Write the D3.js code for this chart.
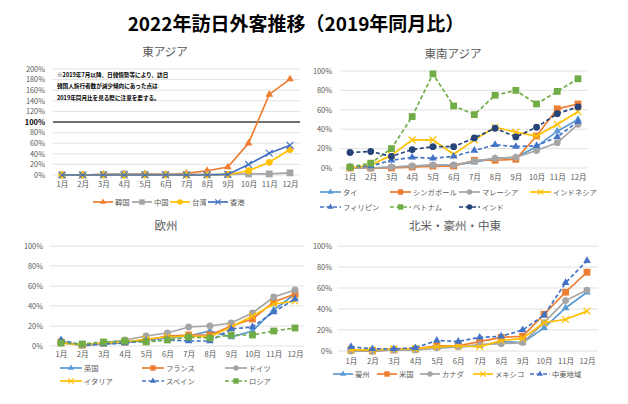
<!DOCTYPE html>
<html><head><meta charset="utf-8">
<script src="https://cdn.jsdelivr.net/npm/d3@7"></script>
<style>
body{margin:0;background:#fff;}
svg{font-family:"Noto Sans CJK JP","Noto Sans",sans-serif;}
</style></head>
<body><svg id="c" width="628" height="404"></svg>
<script>
const months = ["1月","2月","3月","4月","5月","6月","7月","8月","9月","10月","11月","12月"];
const mainTitle = "2022年訪日外客推移（2019年同月比）";
const noteLines = ["※2019年7月以降、日韓情勢等により、訪日","韓国人旅行者数が減少傾向にあった点は","2019年同月比を見る際に注意を要する。"];

// 東アジア
const eaTicks = [0,20,40,60,80,100,120,140,160,180,200];
const korea = [0,0,1,2,2,1,3,8,15,60,152,181];
const china = [0,0,1,2,1,1,1,1,1,2,2,4];
const taiwan = [0,0,0,0,0,0,0,0,1,8,24,48];
const hongkong = [0,0,0,0,0,0,0,0,1,20,41,56];

// 東南アジア
const pctTicks = [0,20,40,60,80,100];
const thailand = [0,0,1,2,3,3,6,10,11,22,38,50];
const singapore = [0,0,0,1,2,2,8,8,9,33,61,66];
const malaysia = [0,0,1,2,3,3,7,10,11,18,26,45];
const indonesia = [0,3,13,29,29,14,29,42,37,33,45,58];
const philippines = [1,2,8,11,10,12,18,24,22,23,32,48];
const vietnam = [1,5,20,53,97,64,55,75,80,66,79,92];
const india = [16,17,12,19,22,22,31,41,32,42,56,63];

// 欧州
const uk = [5,0,2,3,6,8,10,15,9,15,36,52];
const france = [4,1,3,4,6,10,11,11,20,27,44,52];
const germany = [3,1,3,6,10,13,19,20,23,33,49,56];
const italy = [3,1,3,4,7,9,10,9,19,30,42,45];
const spain = [6,1,2,3,5,6,5,5,17,19,34,47];
const russia = [3,2,4,5,4,6,9,8,11,11,15,18];

// 北米・豪州・中東
const australia = [0,0,1,1,3,4,5,9,8,22,41,56];
const usa = [1,0,1,2,5,5,9,13,14,35,56,75];
const canada = [0,0,1,1,3,4,6,7,8,27,48,58];
const mexico = [1,1,2,2,4,5,4,10,12,27,30,38];
const mideast = [4,2,2,3,10,9,13,14,20,34,65,86];

const C = {lblue:"#5B9BD5", orange:"#ED7D31", gray:"#A5A5A5", yellow:"#FFC000", blue:"#4472C4", green:"#70AD47", navy:"#264478"};

const panels = [
 {title:"東アジア", tx:165, ty:56, x0:62, x1:290, yTop:69, yBot:175, yMax:200, ticks:eaTicks, gx0:53, gx1:300, labR:45, monthY:187,
  series:[
   {name:"韓国", d:korea, c:C.orange, m:"tri", dash:false},
   {name:"中国", d:china, c:C.gray, m:"sq", dash:false},
   {name:"台湾", d:taiwan, c:C.yellow, m:"circ", dash:false},
   {name:"香港", d:hongkong, c:C.blue, m:"x", dash:false}],
  legend:[[93,202],[132,202],[170,202],[208,202]], legLen:20, ref100:true, note:true},
 {title:"東南アジア", tx:453, ty:58, x0:350, x1:578, yTop:71, yBot:168, yMax:100, ticks:pctTicks, gx0:340, gx1:588, labR:332, monthY:180,
  series:[
   {name:"タイ", d:thailand, c:C.lblue, m:"tri", dash:false},
   {name:"シンガポール", d:singapore, c:C.orange, m:"sq", dash:false},
   {name:"マレーシア", d:malaysia, c:C.gray, m:"circ", dash:false},
   {name:"インドネシア", d:indonesia, c:C.yellow, m:"x", dash:false},
   {name:"フィリピン", d:philippines, c:C.blue, m:"tri", dash:true},
   {name:"ベトナム", d:vietnam, c:C.green, m:"sq", dash:true},
   {name:"インド", d:india, c:C.navy, m:"circ", dash:true}],
  legend:[[320,192],[390,192],[459,192],[530,192],[320,207],[390,207],[459,207]], legLen:21},
 {title:"欧州", tx:166, ty:230, x0:61, x1:295, yTop:246, yBot:346, yMax:100, ticks:pctTicks, gx0:50, gx1:305, labR:43, monthY:357,
  series:[
   {name:"英国", d:uk, c:C.lblue, m:"tri", dash:false},
   {name:"フランス", d:france, c:C.orange, m:"sq", dash:false},
   {name:"ドイツ", d:germany, c:C.gray, m:"circ", dash:false},
   {name:"イタリア", d:italy, c:C.yellow, m:"x", dash:false},
   {name:"スペイン", d:spain, c:C.blue, m:"tri", dash:true},
   {name:"ロシア", d:russia, c:C.green, m:"sq", dash:true}],
  legend:[[60,368],[142,368],[225,368],[60,381],[142,381],[225,381]], legLen:22},
 {title:"北米・豪州・中東", tx:455, ty:230, x0:351, x1:587, yTop:246, yBot:351, yMax:100, ticks:pctTicks, gx0:338, gx1:598, labR:332, monthY:364,
  series:[
   {name:"豪州", d:australia, c:C.lblue, m:"tri", dash:false},
   {name:"米国", d:usa, c:C.orange, m:"sq", dash:false},
   {name:"カナダ", d:canada, c:C.gray, m:"circ", dash:false},
   {name:"メキシコ", d:mexico, c:C.yellow, m:"x", dash:false},
   {name:"中東地域", d:mideast, c:C.blue, m:"tri", dash:true}],
  legend:[[333,374],[377,374],[420,374],[473,374],[530,374]], legLen:20}
];

const svg = d3.select("#c");
svg.append("text").attr("x",296).attr("y",31).attr("text-anchor","middle")
  .attr("font-size",19).attr("font-weight","bold").attr("fill","#000").text(mainTitle);

function marker(g, type, x, y, c, s){
  s = s||3.4;
  if(type==="tri") g.append("path").attr("d",d3.symbol(d3.symbolTriangle, s*s*2.2)()).attr("transform",`translate(${x},${y})`).attr("fill",c);
  else if(type==="sq") g.append("rect").attr("x",x-s).attr("y",y-s).attr("width",2*s).attr("height",2*s).attr("fill",c);
  else if(type==="circ") g.append("circle").attr("cx",x).attr("cy",y).attr("r",s).attr("fill",c);
  else if(type==="x") {
    g.append("path").attr("d",`M${x-s},${y-s}L${x+s},${y+s}M${x-s},${y+s}L${x+s},${y-s}`).attr("stroke",c).attr("stroke-width",1.2);
  }
}

panels.forEach(p=>{
  const g = svg.append("g");
  const x = d3.scalePoint().domain(months).range([p.x0,p.x1]);
  const y = d3.scaleLinear().domain([0,p.yMax]).range([p.yBot,p.yTop]);
  g.append("text").attr("x",p.tx).attr("y",p.ty).attr("text-anchor","middle").attr("font-size",11.5).attr("fill","#595959").text(p.title);
  // grid
  g.selectAll(".grid").data(p.ticks).join("line")
    .attr("x1",p.gx0).attr("x2",p.gx1).attr("y1",d=>y(d)).attr("y2",d=>y(d))
    .attr("stroke",d=>(p.ref100&&d===100)?"#404040":"#D9D9D9").attr("stroke-width",d=>(p.ref100&&d===100)?1.3:0.8);
  // y axis
  const ya = d3.axisLeft(y).tickValues(p.ticks).tickFormat(d=>d+"%").tickSize(0);
  const yg = g.append("g").attr("transform",`translate(${p.labR+3},0)`).call(ya);
  yg.select(".domain").remove();
  yg.selectAll("text").attr("font-size",7.4).attr("font-family","'Noto Sans CJK JP',sans-serif")
    .attr("font-weight",d=>(p.ref100&&d===100)?"bold":"normal").attr("fill",d=>(p.ref100&&d===100)?"#000":"#595959");
  // x axis
  const xa = d3.axisBottom(x).tickSize(0);
  const xg = g.append("g").attr("transform",`translate(0,${p.monthY-8})`).call(xa);
  xg.select(".domain").remove();
  xg.selectAll("text").attr("font-size",7.6).attr("fill","#595959").attr("font-family","'Noto Sans CJK JP',sans-serif");
  if(p.note){
    noteLines.forEach((t,i)=>g.append("text").attr("x",57).attr("y",[77,88,100][i]).attr("font-size",5.6).attr("font-weight","bold").attr("fill","#000").text(t));
  }
  const line = d3.line().x((d,i)=>x(months[i])).y(d=>y(d));
  p.series.forEach(s=>{
    g.append("path").attr("d",line(s.d)).attr("fill","none").attr("stroke",s.c).attr("stroke-width",1.7)
      .attr("stroke-dasharray",s.dash?"4,2.5":null);
    s.d.forEach((v,i)=>marker(g,s.m,x(months[i]),y(v),s.c));
  });
  // legend
  p.series.forEach((s,i)=>{
    const [lx,ly] = p.legend[i];
    g.append("line").attr("x1",lx).attr("x2",lx+p.legLen).attr("y1",ly).attr("y2",ly).attr("stroke",s.c).attr("stroke-width",1.7)
      .attr("stroke-dasharray",s.dash?"4,2.5":null);
    marker(g,s.m,lx+p.legLen/2,ly,s.c,2.7);
    g.append("text").attr("x",lx+p.legLen+2).attr("y",ly+2.7).attr("font-size",7.3).attr("fill","#595959").text(s.name);
  });
});
</script></body></html>
